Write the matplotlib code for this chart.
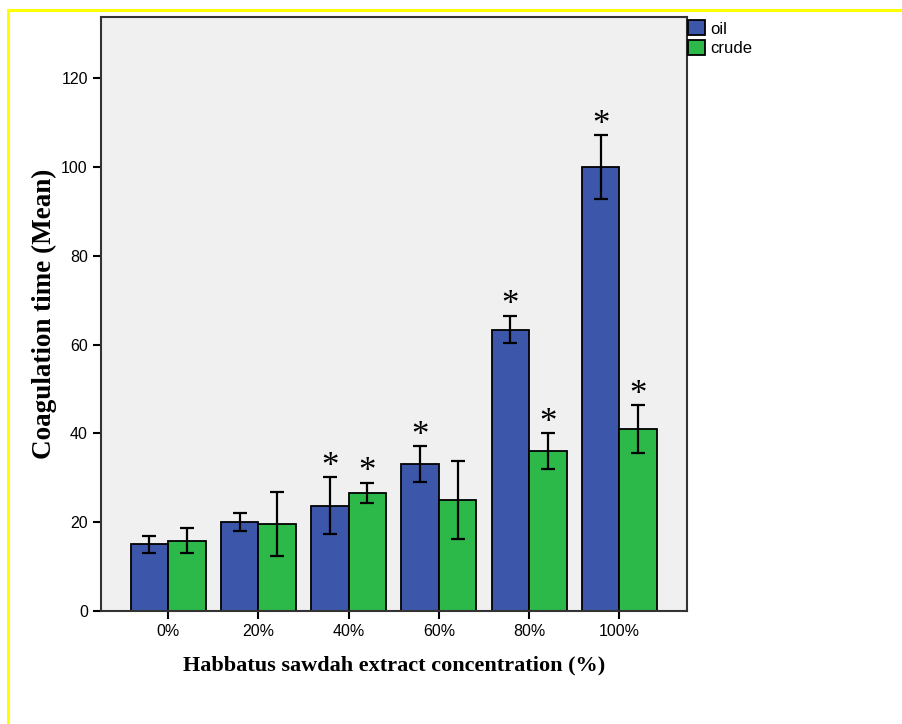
import numpy as np
import matplotlib
matplotlib.use("Agg")
import matplotlib.pyplot as plt
from matplotlib.patches import Patch
from matplotlib.lines import Line2D

categories = ["0%", "20%", "40%", "60%", "80%", "100%"]
oil_mean = [15.0, 20.0, 23.6, 33.0, 63.4, 100.0]
oil_low = [13.0, 18.0, 17.3, 29.0, 60.3, 92.8]
oil_high = [17.0, 22.0, 30.1, 37.1, 66.5, 107.2]
crude_mean = [15.7, 19.7, 26.6, 25.0, 36.0, 41.0]
crude_low = [13.0, 12.5, 24.3, 16.3, 32.0, 35.7]
crude_high = [18.8, 26.7, 28.9, 33.8, 40.0, 46.3]
oil_star = [False, False, True, True, True, True]
crude_star = [False, False, True, False, True, True]

blue = "#3c56aa"
green = "#2db84a"

fig = plt.figure(figsize=(9.03, 7.24), dpi=100)
ax = fig.add_axes([101 / 903, 1 - 611 / 724, 586 / 903, 594 / 724])
ax.set_facecolor("#f0f0f0")

x = np.arange(len(categories))
w = 0.415

def draw(offset, mean, low, high, star, color):
    xs = x + offset
    ax.bar(xs, mean, width=w, color=color, edgecolor="black", linewidth=1.3, zorder=2)
    m = np.array(mean)
    err = [m - np.array(low), np.array(high) - m]
    ax.errorbar(xs, mean, yerr=err, fmt="none", ecolor="black", elinewidth=1.6,
                capsize=5, capthick=1.6, zorder=3)
    for xi, hi, s in zip(xs, high, star):
        if s:
            ax.text(xi, hi - 1.5, "*", ha="center", va="bottom", fontsize=25,
                    family="Liberation Serif", zorder=4)

draw(-w / 2, oil_mean, oil_low, oil_high, oil_star, blue)
draw(w / 2, crude_mean, crude_low, crude_high, crude_star, green)

ax.set_xlim(-0.745, 5.75)
ax.set_ylim(0, 133.8)
ax.set_xticks(x)
ax.set_xticklabels(categories, family="Liberation Sans", fontsize=11.5)
ax.set_yticks(np.arange(0, 121, 20))
ax.set_yticklabels([str(v) for v in range(0, 121, 20)], family="Liberation Sans", fontsize=11.5)
ax.tick_params(axis="both", length=6, width=1.5, color="black")
for s in ax.spines.values():
    s.set_linewidth(1.5)
    s.set_color("#333333")

ax.set_ylabel("Coagulation time (Mean)", family="Liberation Serif", fontweight="bold",
              fontsize=19.5, labelpad=3)
ax.set_xlabel("Habbatus sawdah extract concentration (%)", family="Liberation Serif",
              fontweight="bold", fontsize=16, labelpad=12)

handles = [Patch(facecolor=blue, edgecolor="black", linewidth=1.3, label="oil"),
           Patch(facecolor=green, edgecolor="black", linewidth=1.3, label="crude")]
fig.legend(handles=handles, loc="upper left", bbox_to_anchor=(685 / 903, 1 - 17 / 724),
           frameon=False, prop={"family": "Liberation Sans", "size": 12},
           handlelength=1.0, handleheight=1.0, handletextpad=0.3, labelspacing=0.2,
           borderaxespad=0, borderpad=0.2)

# yellow frame lines
fig.add_artist(Line2D([8 / 903, 8 / 903], [0, 1 - 10 / 724], color="yellow", linewidth=2.2,
                      transform=fig.transFigure))
fig.add_artist(Line2D([8 / 903, 1], [1 - 10 / 724, 1 - 10 / 724], color="yellow", linewidth=2.2,
                      transform=fig.transFigure))

fig.savefig("out.png", dpi=100)
